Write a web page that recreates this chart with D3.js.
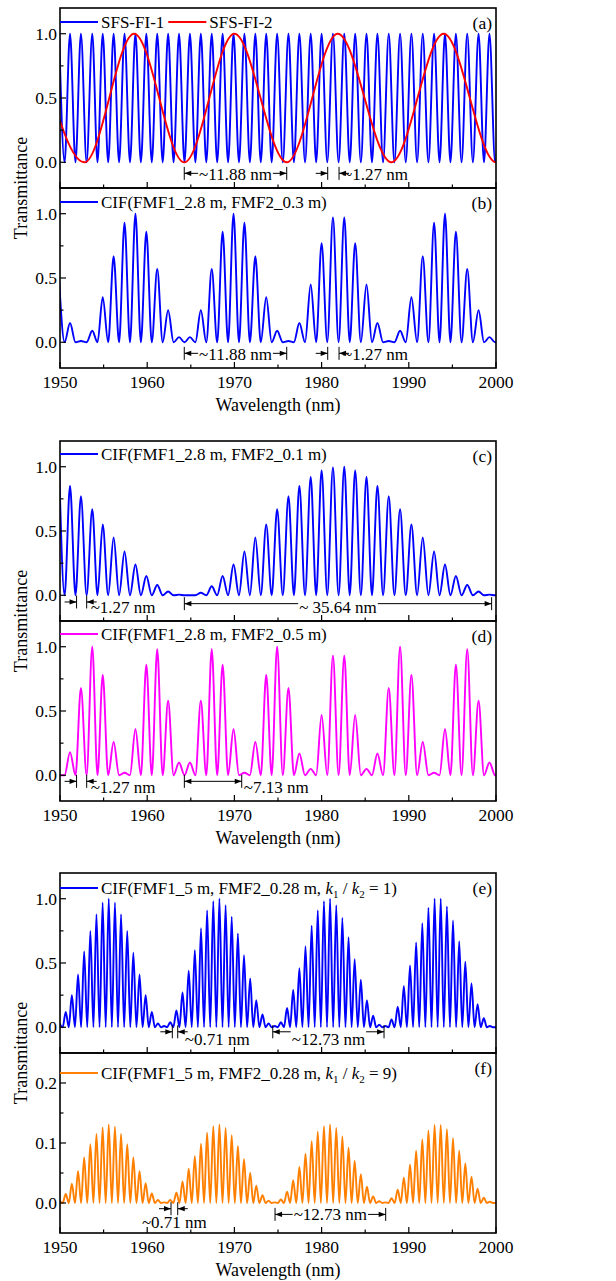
<!DOCTYPE html>
<html><head><meta charset="utf-8">
<script src="https://cdn.jsdelivr.net/npm/d3@7"></script>
<style>
body{margin:0;background:#fff}
text{font-family:"Liberation Serif","Times New Roman",serif;fill:#000}
</style>
</head><body>
<svg id="chart" width="616" height="1281"></svg>
<script>
// ---------------- data ----------------
const xTickValues = [1950, 1960, 1970, 1980, 1990, 2000];
const xMinorValues = [1955, 1965, 1975, 1985, 1995];
const yTickValues = [0, 0.5, 1.0];
const yMinorValues = [0.25, 0.75];
const yTickValuesF = [0, 0.1, 0.2];
const yMinorValuesF = [0.05, 0.15];

// fringe peak wavelengths of the ~1.27 nm comb (panels a-d)
const combPeaks = [1949.9,1951.15,1952.4,1953.7,1954.9,1956.15,1957.4,1958.65,1959.9,1961.15,1962.4,1963.65,1964.9,1966.15,1967.4,1968.65,1969.9,1971.15,1972.4,1973.65,1974.9,1976.2,1977.45,1978.75,1980.0,1981.3,1982.6,1983.85,1985.15,1986.4,1987.7,1989.0,1990.3,1991.6,1992.9,1994.15,1995.4,1996.7,1998.0,1999.25,2000.55];
const peaksA1 = [1,1,1,1,1,1,1,1,1,1,1,1,1,1,1,1,1,1,1,1,1,1,1,1,1,1,1,1,1,1,1,1,1,1,1,1,1,1,1,1,1];
const redTurnX = [1947.3,1952.8,1958.5,1964.25,1970.0,1976.0,1981.85,1988.0,1994.0,2000.0,2006.0];
const redTurnY = [1,0,1,0,1,0,1,0,1,0,1];
const peaksB = [0.48,0.15,0.01,0.09,0.35,0.67,0.93,1.0,0.86,0.57,0.25,0.04,0.04,0.25,0.57,0.86,1.0,0.93,0.67,0.35,0.09,0.01,0.15,0.45,0.77,0.97,0.97,0.77,0.45,0.15,0.01,0.09,0.35,0.67,0.93,1.0,0.86,0.57,0.25,0.04,0.0];
const peaksC = [1.0,0.85,0.77,0.67,0.55,0.45,0.34,0.24,0.15,0.08,0.03,0.005,0.0,0.02,0.07,0.15,0.24,0.34,0.45,0.55,0.67,0.77,0.85,0.92,0.97,0.995,1.0,0.97,0.92,0.85,0.77,0.67,0.55,0.45,0.34,0.24,0.15,0.08,0.03,0.005,0.0];
const peaksD = [0.0,0.18,0.68,1.0,0.78,0.26,0.02,0.36,0.86,0.98,0.58,0.10,0.10,0.58,0.98,0.86,0.36,0.02,0.26,0.78,1.0,0.68,0.17,0.05,0.47,0.93,0.93,0.47,0.05,0.17,0.68,1.0,0.78,0.26,0.02,0.36,0.86,0.98,0.58,0.10,0.0];

// fringe peak wavelengths of the ~0.71 nm comb (panels e-f)
const finePeaks = [1949.95,1950.66,1951.36,1952.07,1952.77,1953.48,1954.18,1954.89,1955.59,1956.30,1957.00,1957.71,1958.41,1959.12,1959.82,1960.53,1961.23,1961.94,1962.64,1963.35,1964.05,1964.76,1965.46,1966.17,1966.87,1967.58,1968.28,1968.99,1969.69,1970.40,1971.10,1971.81,1972.51,1973.22,1973.92,1974.63,1975.33,1976.04,1976.74,1977.45,1978.15,1978.86,1979.56,1980.27,1980.97,1981.68,1982.38,1983.09,1983.79,1984.50,1985.20,1985.91,1986.61,1987.32,1988.02,1988.73,1989.43,1990.14,1990.84,1991.55,1992.25,1992.96,1993.66,1994.37,1995.07,1995.78,1996.48,1997.19,1997.89,1998.60,1999.30,2000.01];
const peaksE = [0.03,0.12,0.25,0.41,0.59,0.75,0.88,0.97,1.0,0.97,0.88,0.75,0.58,0.41,0.25,0.12,0.03,0.01,0.04,0.13,0.27,0.44,0.60,0.77,0.91,0.98,1.0,0.95,0.86,0.73,0.56,0.38,0.21,0.10,0.03,0.01,0.04,0.15,0.29,0.46,0.63,0.79,0.91,0.98,1.0,0.95,0.85,0.70,0.53,0.37,0.21,0.09,0.02,0.01,0.06,0.16,0.32,0.48,0.66,0.81,0.93,1.0,1.0,0.94,0.83,0.67,0.51,0.34,0.18,0.07,0.01,0.0];
const peaksF = [0.004,0.015,0.032,0.053,0.076,0.098,0.115,0.126,0.131,0.127,0.115,0.098,0.076,0.053,0.033,0.016,0.005,0.001,0.005,0.017,0.036,0.057,0.078,0.099,0.117,0.128,0.131,0.125,0.113,0.095,0.073,0.050,0.029,0.013,0.004,0.001,0.006,0.019,0.038,0.060,0.082,0.103,0.119,0.128,0.131,0.125,0.111,0.092,0.070,0.048,0.027,0.011,0.003,0.001,0.008,0.022,0.042,0.064,0.087,0.106,0.121,0.130,0.130,0.123,0.108,0.087,0.066,0.044,0.024,0.009,0.002,0.0];

// dimension annotations (wavelength in nm, level in transmittance)
const annotations = [
  {p:"a", kind:"in",  x1:1964.25, x2:1976.0, y:-0.086, label:"~11.88 nm", ty:-0.137},
  {p:"a", kind:"out", x1:1980.7, x2:1982.0, y:-0.086, label:"~1.27 nm", ty:-0.137},
  {p:"b", kind:"in",  x1:1964.25, x2:1976.0, y:-0.086, label:"~11.88 nm", ty:-0.14},
  {p:"b", kind:"out", x1:1980.7, x2:1982.0, y:-0.086, label:"~1.27 nm", ty:-0.14},
  {p:"c", kind:"out", x1:1951.9, x2:1953.06, y:-0.052, label:"~1.27 nm", ty:-0.136},
  {p:"c", kind:"in",  x1:1964.26, x2:1999.5, y:-0.065, label:"~ 35.64 nm", ty:-0.136},
  {p:"d", kind:"out", x1:1951.9, x2:1953.06, y:-0.047, label:"~1.27 nm", ty:-0.14},
  {p:"d", kind:"span", x1:1964.26, x2:1970.84, y:-0.047, label:"~7.13 nm", ty:-0.14},
  {p:"e", kind:"out", x1:1962.88, x2:1963.5, y:-0.035, label:"~0.71 nm", ty:-0.135},
  {p:"e", kind:"in",  x1:1974.4, x2:1987.16, y:-0.035, label:"~12.73 nm", ty:-0.135},
  {p:"f", kind:"out", x1:1962.73, x2:1963.5, y:-0.0095, label:"~0.71 nm", ty:-0.041},
  {p:"f", kind:"in",  x1:1974.66, x2:1987.35, y:-0.019, label:"~12.73 nm", ty:-0.029}
];

// ---------------- layout ----------------
const X0 = 60, X1 = 496, PH = 180;
const svg = d3.select("#chart");
svg.append("rect").attr("width", 616).attr("height", 1281).attr("fill", "#fff");
const x = d3.scaleLinear().domain([1950, 2000]).range([X0, X1]);

const panels = [
  {key:"a", top:8,    dom:[-0.2,1.2], yt:yTickValues,  ym:yMinorValues,  bottom:false,
    series:[{px:combPeaks, h:peaksA1, c:"#0000ff", name:"SFS-FI-1"}, {turnX:redTurnX, turnY:redTurnY, c:"#ff0000", name:"SFS-FI-2"}], legY:14},
  {key:"b", top:188,  dom:[-0.2,1.2], yt:yTickValues,  ym:yMinorValues,  bottom:true,
    series:[{px:combPeaks, h:peaksB, c:"#0000ff", name:"CIF(FMF1_2.8 m, FMF2_0.3 m)"}], legY:14},
  {key:"c", top:441,  dom:[-0.2,1.2], yt:yTickValues,  ym:yMinorValues,  bottom:false,
    series:[{px:combPeaks, h:peaksC, c:"#0000ff", name:"CIF(FMF1_2.8 m, FMF2_0.1 m)"}], legY:13},
  {key:"d", top:621,  dom:[-0.2,1.2], yt:yTickValues,  ym:yMinorValues,  bottom:true,
    series:[{px:combPeaks, h:peaksD, c:"#ff00ff", name:"CIF(FMF1_2.8 m, FMF2_0.5 m)"}], legY:13},
  {key:"e", top:873,  dom:[-0.2,1.2], yt:yTickValues,  ym:yMinorValues,  bottom:false,
    series:[{px:finePeaks, h:peaksE, c:"#0000ff", name:"k", kval:"1"}], legY:15},
  {key:"f", top:1053, dom:[-0.05,0.25], yt:yTickValuesF, ym:yMinorValuesF, bottom:true,
    series:[{px:finePeaks, h:peaksF, c:"#ff7f00", name:"k", kval:"9"}], legY:20}
];

const defs = svg.append("defs");

function fringePoints(px, h) {
  const pts = [];
  for (let i = 0; i < px.length; i++) {
    pts.push([px[i], h[i]]);
    if (i < px.length - 1) pts.push([(px[i] + px[i + 1]) / 2, 0]);
  }
  return pts;
}

function arrowHead(g, tipX, y, dir) {
  g.append("path")
    .attr("d", `M${tipX},${y} L${tipX - dir * 7},${y - 2.6} L${tipX - dir * 7},${y + 2.6} Z`)
    .attr("fill", "#000");
}

panels.forEach(P => {
  const y = d3.scaleLinear().domain(P.dom).range([P.top + PH, P.top]);
  const g = svg.append("g");
  defs.append("clipPath").attr("id", "clip-" + P.key)
    .append("rect").attr("x", X0).attr("y", P.top).attr("width", X1 - X0).attr("height", PH);

  const line = d3.line().x(d => x(d[0])).y(d => y(d[1])).curve(d3.curveMonotoneX);
  const cg = g.append("g").attr("clip-path", `url(#clip-${P.key})`);
  P.series.forEach(s => {
    const pts = s.px ? fringePoints(s.px, s.h) : s.turnX.map((v, i) => [v, s.turnY[i]]);
    cg.append("path").datum(pts).attr("d", line)
      .attr("fill", "none").attr("stroke", s.c).attr("stroke-width", 1.9)
      .attr("stroke-linejoin", "round");
  });

  const tg = g.append("g").attr("stroke", "#000").attr("stroke-width", 1.2);
  xTickValues.forEach(v => tg.append("line").attr("x1", x(v)).attr("x2", x(v))
    .attr("y1", P.top + PH).attr("y2", P.top + PH - 6));
  xMinorValues.forEach(v => tg.append("line").attr("x1", x(v)).attr("x2", x(v))
    .attr("y1", P.top + PH).attr("y2", P.top + PH - 3.5));
  P.yt.forEach(v => tg.append("line").attr("x1", X0).attr("x2", X0 + 6)
    .attr("y1", y(v)).attr("y2", y(v)));
  P.ym.forEach(v => tg.append("line").attr("x1", X0).attr("x2", X0 + 3.5)
    .attr("y1", y(v)).attr("y2", y(v)));

  P.yt.forEach(v => g.append("text").attr("x", X0 - 3).attr("y", y(v) + 6)
    .attr("text-anchor", "end").attr("font-size", 17.5).text(d3.format(".1f")(v)));

  if (P.bottom) {
    xTickValues.forEach(v => g.append("text").attr("x", x(v)).attr("y", P.top + PH + 20)
      .attr("text-anchor", "middle").attr("font-size", 17.5).text(v));
    g.append("text").attr("x", (X0 + X1) / 2).attr("y", P.top + PH + 43)
      .attr("text-anchor", "middle").attr("font-size", 18).text("Wavelength (nm)");
  }

  g.append("rect").attr("x", X0).attr("y", P.top).attr("width", X1 - X0).attr("height", PH)
    .attr("fill", "none").attr("stroke", "#000").attr("stroke-width", 1.6);

  g.append("text").attr("x", X1 - 4).attr("y", P.top + 21).attr("text-anchor", "end")
    .attr("font-size", 17.5).text("(" + P.key + ")");

  let lx = X0;
  const ly = P.top + P.legY;
  P.series.forEach(s => {
    g.append("line").attr("x1", lx).attr("x2", lx + 38).attr("y1", ly).attr("y2", ly)
      .attr("stroke", s.c).attr("stroke-width", 1.9);
    const t = g.append("text").attr("x", lx + 41).attr("y", ly + 6).attr("font-size", 17);
    if (s.name === "k") {
      t.append("tspan").text("CIF(FMF1_5 m, FMF2_0.28 m, ");
      t.append("tspan").attr("font-style", "italic").text("k");
      t.append("tspan").attr("font-size", 11).attr("dy", 4).text("1");
      t.append("tspan").attr("dy", -4).text(" / ");
      t.append("tspan").attr("font-style", "italic").text("k");
      t.append("tspan").attr("font-size", 11).attr("dy", 4).text("2");
      t.append("tspan").attr("dy", -4).text(" = " + s.kval + ")");
    } else {
      t.text(s.name);
    }
    lx += 41 + t.node().getComputedTextLength() + 4;
  });

  const ag = g.append("g");
  annotations.filter(a => a.p === P.key).forEach(a => {
    const xa = x(a.x1), xb = x(a.x2), yy = y(a.y);
    [xa, xb].forEach(xx => ag.append("line").attr("x1", xx).attr("x2", xx)
      .attr("y1", yy - 6.5).attr("y2", yy + 6.5).attr("stroke", "#000").attr("stroke-width", 1));
    if (a.kind === "in") {
      const t = ag.append("text").attr("x", (xa + xb) / 2).attr("y", y(a.ty))
        .attr("text-anchor", "middle").attr("font-size", 17).text(a.label);
      const w = t.node().getComputedTextLength();
      const g1 = (xa + xb) / 2 - w / 2 - 1, g2 = (xa + xb) / 2 + w / 2 + 1;
      ag.append("line").attr("x1", xa).attr("x2", g1).attr("y1", yy).attr("y2", yy).attr("stroke", "#000");
      ag.append("line").attr("x1", g2).attr("x2", xb).attr("y1", yy).attr("y2", yy).attr("stroke", "#000");
      arrowHead(ag, xa, yy, -1);
      arrowHead(ag, xb, yy, 1);
    } else if (a.kind === "span") {
      ag.append("line").attr("x1", xa).attr("x2", xb).attr("y1", yy).attr("y2", yy).attr("stroke", "#000");
      arrowHead(ag, xa, yy, -1);
      arrowHead(ag, xb, yy, 1);
      ag.append("text").attr("x", xb + 2).attr("y", y(a.ty)).attr("font-size", 17).text(a.label);
    } else {
      ag.append("line").attr("x1", xa - 12).attr("x2", xa).attr("y1", yy).attr("y2", yy).attr("stroke", "#000");
      arrowHead(ag, xa, yy, 1);
      ag.append("line").attr("x1", xb).attr("x2", xb + 10).attr("y1", yy).attr("y2", yy).attr("stroke", "#000");
      arrowHead(ag, xb, yy, -1);
      const t = ag.append("text").attr("y", y(a.ty)).attr("font-size", 17).text(a.label);
      if (P.key === "f") t.attr("text-anchor", "middle").attr("x", (xa + xb) / 2);
      else if (P.key === "e") t.attr("x", xb + 7);
      else t.attr("x", xb + 4);
    }
  });
});

[188, 621, 1053].forEach(cy => {
  svg.append("text").attr("transform", `translate(27,${cy}) rotate(-90)`)
    .attr("text-anchor", "middle").attr("font-size", 18).text("Transmittance");
});
</script>
</body></html>
